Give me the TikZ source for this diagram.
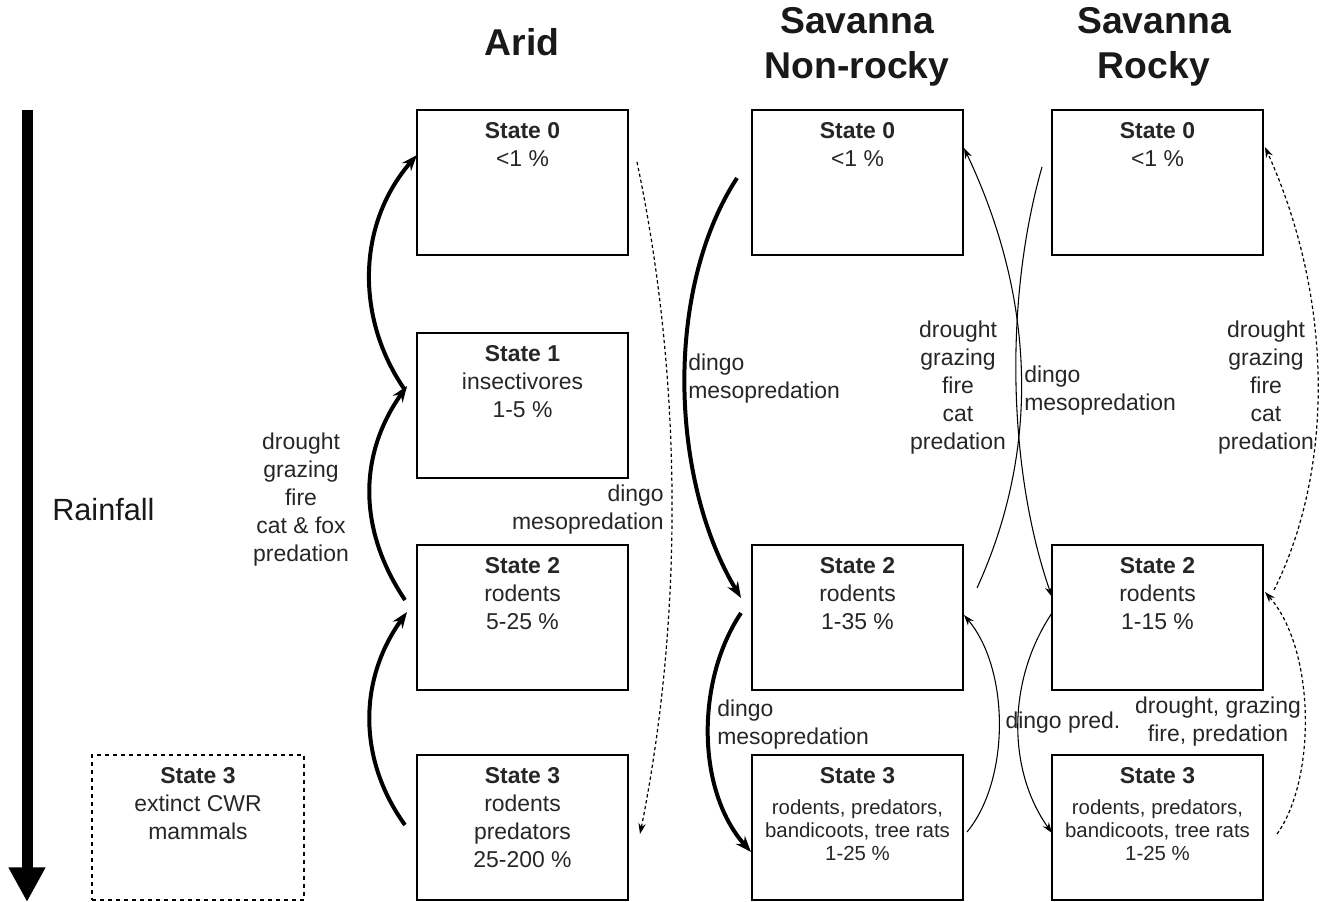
\documentclass[tikz,border=0pt]{standalone}
\usepackage{fontspec}
\setmainfont{Liberation Sans}
\usetikzlibrary{arrows.meta}
\newcommand\bodyfnt{\fontsize{17.2}{21}\selectfont}
\newcommand\smallfnt{\fontsize{15.3}{17.4}\selectfont}
\newcommand\titlefnt{\fontsize{28}{33.75}\selectfont\bfseries}
\begin{document}
\begin{tikzpicture}[x=0.75pt,y=-0.75pt,
  box/.style={draw, line width=0.9pt, minimum width=158.25pt, minimum height=108.75pt,
    inner sep=0pt, outer sep=0pt, anchor=north west},
  dbox/.style={box, dashed, minimum width=159pt},
  boxtxt/.style={anchor=north, align=center, inner sep=0pt, font=\bodyfnt, text=black!85, yshift=-9pt},
  smalltxt/.style={anchor=north, align=center, inner sep=0pt, font=\smallfnt, text=black!85, yshift=-33pt},
  lbl/.style={align=center, inner sep=0pt, font=\bodyfnt, text=black!85},
  ttl/.style={align=center, inner sep=0pt, font=\titlefnt, text=black!90},
  thickarr/.style={line width=3pt, -{Stealth[length=12pt,width=9pt]}},
  thinarr/.style={line width=0.8pt, -{Stealth[length=8pt,width=5.5pt]}},
  dasharr/.style={thinarr, line width=0.9pt, dash pattern=on 2.5pt off 2pt}
]
\useasboundingbox (0,0) rectangle (1321,902);

% titles
\node[ttl] (tA) at (522,42) {Arid};
\node[ttl] (tN) at (857,47) {Savanna\\Non-rocky};
\node[ttl] (tR) at (1154,47) {Savanna\\Rocky};

% rainfall
\coordinate (rtop) at (27,110);
\coordinate (rbot) at (27,902);
\draw[line width=8.25pt, -{Triangle[length=26pt,width=26pt]}] (rtop) -- (rbot);
\node[anchor=west, inner sep=0pt, font=\fontsize{23}{27}\selectfont, text=black!90] (rain) at (52,510) {Rainfall};

% boxes
\node[box] (a0) at (417,110) {};
\node[box] (a1) at (417,333) {};
\node[box] (a2) at (417,545) {};
\node[box] (a3) at (417,755) {};
\node[box] (n0) at (752,110) {};
\node[box] (n2) at (752,545) {};
\node[box] (n3) at (752,755) {};
\node[box] (r0) at (1052,110) {};
\node[box] (r2) at (1052,545) {};
\node[box] (r3) at (1052,755) {};
\node[dbox] (x3) at (92,755) {};

% box texts
\node[boxtxt] (a0t) at (a0.north) {\textbf{State 0}\\<1 \%};
\node[boxtxt] (a1t) at (a1.north) {\textbf{State 1}\\insectivores\\1-5 \%};
\node[boxtxt] (a2t) at (a2.north) {\textbf{State 2}\\rodents\\5-25 \%};
\node[boxtxt] (a3t) at (a3.north) {\textbf{State 3}\\rodents\\predators\\25-200 \%};
\node[boxtxt] (n0t) at (n0.north) {\textbf{State 0}\\<1 \%};
\node[boxtxt] (n2t) at (n2.north) {\textbf{State 2}\\rodents\\1-35 \%};
\node[boxtxt] (n3t) at (n3.north) {\textbf{State 3}};
\node[smalltxt] (n3s) at (n3.north) {rodents, predators,\\bandicoots, tree rats\\1-25 \%};
\node[boxtxt] (r0t) at (r0.north) {\textbf{State 0}\\<1 \%};
\node[boxtxt] (r2t) at (r2.north) {\textbf{State 2}\\rodents\\1-15 \%};
\node[boxtxt] (r3t) at (r3.north) {\textbf{State 3}};
\node[smalltxt] (r3s) at (r3.north) {rodents, predators,\\bandicoots, tree rats\\1-25 \%};
\node[boxtxt] (x3t) at (x3.north) {\textbf{State 3}\\extinct CWR\\mammals};

% arid thick arrows (upwards)
\coordinate (aA0) at (405,825);
\coordinate (aA1) at (407,612);
\coordinate (aB0) at (405,600);
\coordinate (aB1) at (407,386);
\coordinate (aC0) at (405,390);
\coordinate (aC1) at (417,155);
\draw[thickarr] (aA0) .. controls (358,760) and (358,680) .. (aA1);
\draw[thickarr] (aB0) .. controls (358,530) and (358,455) .. (aB1);
\draw[thickarr] (aC0) .. controls (356,320) and (356,225) .. (aC1);
\node[lbl] (lA) at (301,500) {drought\\grazing\\fire\\cat \& fox\\predation};

% arid dashed arrow
\coordinate (aD0) at (637,162);
\coordinate (aD1) at (640,834);
\draw[dasharr] (aD0) .. controls (683,380) and (683,620) .. (aD1);
\node[lbl, align=right, anchor=east] (lAd) at (664,510) {dingo\\mesopredation};

% savanna non-rocky
\coordinate (nA0) at (737,178);
\coordinate (nA1) at (741,598);
\draw[thickarr] (nA0) .. controls (664,290) and (670,480) .. (nA1);
\node[lbl, align=left, anchor=west] (lN1) at (688,379) {dingo\\mesopredation};
\coordinate (nB0) at (741,613);
\coordinate (nB1) at (751,852);
\draw[thickarr] (nB0) .. controls (696,680) and (696,790) .. (nB1);
\node[lbl, align=left, anchor=west] (lN2) at (717,725) {dingo\\mesopredation};
\coordinate (nC0) at (967,832);
\coordinate (nC1) at (964,615);
\draw[thinarr] (nC0) .. controls (1010,780) and (1010,670) .. (nC1);
\coordinate (nD0) at (977,588);
\coordinate (nD1) at (964,148);
\draw[thinarr] (nD0) .. controls (1040,450) and (1036,300) .. (nD1);
\node[lbl] (lN3) at (958,388) {drought\\grazing\\fire\\cat\\predation};

% savanna rocky
\coordinate (rA0) at (1042,167);
\coordinate (rA1) at (1052,597);
\draw[thinarr] (rA0) .. controls (1004,300) and (1008,470) .. (rA1);
\node[lbl, align=left, anchor=west] (lR1) at (1024,391) {dingo\\mesopredation};
\coordinate (rB0) at (1052,613);
\coordinate (rB1) at (1052,833);
\draw[thinarr] (rB0) .. controls (1007,680) and (1007,770) .. (rB1);
\node[lbl] (lR2) at (1063,723) {dingo pred.};
\coordinate (rC0) at (1277,834);
\coordinate (rC1) at (1265,592);
\draw[dasharr] (rC0) .. controls (1316,780) and (1316,650) .. (rC1);
\node[lbl] (lR3) at (1218,722) {drought, grazing\\fire, predation};
\coordinate (rD0) at (1274,590);
\coordinate (rD1) at (1265,147);
\draw[dasharr] (rD0) .. controls (1334,470) and (1334,300) .. (rD1);
\node[lbl] (lR4) at (1266,388) {drought\\grazing\\fire\\cat\\predation};
\end{tikzpicture}
\end{document}
